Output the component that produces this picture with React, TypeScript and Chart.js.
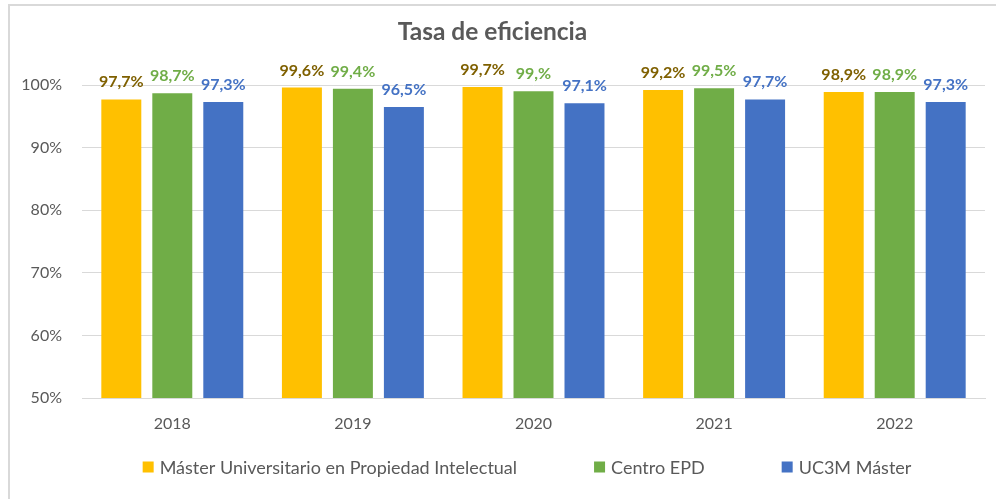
import React, { useEffect, useRef } from "react";
import { Chart, registerables } from "chart.js";

Chart.register(...registerables);

const categories = ["2018", "2019", "2020", "2021", "2022"];
const seriesNames = ["Máster Universitario en Propiedad Intelectual", "Centro EPD", "UC3M Máster"];
const masterValues = [97.7, 99.6, 99.7, 99.2, 98.9];
const centroValues = [98.7, 99.4, 99.0, 99.5, 98.9];
const uc3mValues = [97.3, 96.5, 97.1, 97.7, 97.3];
const masterLabels = ["97,7%", "99,6%", "99,7%", "99,2%", "98,9%"];
const centroLabels = ["98,7%", "99,4%", "99,%", "99,5%", "98,9%"];
const uc3mLabels = ["97,3%", "96,5%", "97,1%", "97,7%", "97,3%"];
const yTicks = [50, 60, 70, 80, 90, 100];

const FONT = "Lato";
const TEXT = "#595959";

const dataLabelPlugin = {
  id: "dataLabels",
  afterDatasetsDraw(chart: any) {
    const ctx = chart.ctx;
    ctx.save();
    ctx.font = `bold 16px ${FONT}`;
    ctx.textAlign = "center";
    ctx.textBaseline = "alphabetic";
    chart.data.datasets.forEach((ds: any, i: number) => {
      const meta = chart.getDatasetMeta(i);
      ctx.fillStyle = ds.labelColor;
      meta.data.forEach((bar: any, j: number) => {
        ctx.fillText(ds.labelTexts[j], bar.x, bar.y - 12);
      });
    });
    ctx.restore();
  },
};

const legendPlugin = {
  id: "customLegend",
  afterDraw(chart: any) {
    const ctx = chart.ctx;
    ctx.save();
    ctx.font = `18px ${FONT}`;
    ctx.textBaseline = "middle";
    ctx.textAlign = "left";
    const box = 11;
    const gapText = 6;
    const gapItem = 77;
    const items = chart.data.datasets.map((ds: any) => ({
      label: ds.label,
      color: ds.backgroundColor,
      w: box + gapText + ctx.measureText(ds.label).width,
    }));
    const total = items.reduce((s: number, it: any) => s + it.w, 0) + gapItem * (items.length - 1);
    let x = 527 - total / 2;
    const y = 467;
    items.forEach((it: any) => {
      ctx.fillStyle = it.color;
      ctx.fillRect(x, y - box / 2, box, box);
      ctx.fillStyle = TEXT;
      ctx.fillText(it.label, x + box + gapText, y + 1);
      x += it.w + gapItem;
    });
    ctx.restore();
  },
};

export default function App() {
  const ref = useRef<HTMLCanvasElement>(null);
  useEffect(() => {
    if (!ref.current) return;
    const chart = new Chart(ref.current, {
      type: "bar",
      data: {
        labels: categories,
        datasets: [
          { label: seriesNames[0], data: masterValues, backgroundColor: "#FFC000", labelColor: "#7F6000", labelTexts: masterLabels } as any,
          { label: seriesNames[1], data: centroValues, backgroundColor: "#70AD47", labelColor: "#70AD47", labelTexts: centroLabels } as any,
          { label: seriesNames[2], data: uc3mValues, backgroundColor: "#4472C4", labelColor: "#4472C4", labelTexts: uc3mLabels } as any,
        ],
      },
      options: {
        animation: false,
        responsive: false,
        maintainAspectRatio: false,
        layout: { padding: { left: 0, right: 11, top: 0, bottom: 51 } },
        datasets: { bar: { categoryPercentage: 0.847, barPercentage: 0.784 } },
        plugins: {
          legend: { display: false },
          tooltip: { enabled: false },
          title: {
            display: true,
            text: "Tasa de eficiencia",
            color: TEXT,
            font: { family: FONT, size: 24.5, weight: "bold" },
            padding: { top: 17.5, bottom: 38.1 },
          },
        },
        scales: {
          x: {
            grid: { display: false },
            border: { display: true, color: "#D9D9D9", width: 1 },
            ticks: { color: TEXT, font: { family: FONT, size: 16 }, padding: 8 },
            afterFit: (s: any) => { s.height = 50; },
          },
          y: {
            min: 50,
            max: 100,
            afterBuildTicks: (s: any) => { s.ticks = yTicks.map((v) => ({ value: v })); },
            grid: { color: "#D9D9D9", drawTicks: false },
            border: { display: false },
            ticks: {
              color: TEXT,
              font: { family: FONT, size: 16 },
              padding: 20,
              callback: (v: any) => `${v}%`,
            },
            afterFit: (s: any) => { s.width = 82; },
          },
        },
      },
      plugins: [dataLabelPlugin, legendPlugin],
    });
    return () => chart.destroy();
  }, []);
  return (
    <div style={{ position: "absolute", left: 0, top: 0, width: 996, height: 499, background: "#fff" }}>
      <div style={{ position: "absolute", left: 8, top: 4, right: 0, bottom: 0, borderLeft: "2px solid #D9D9D9", borderTop: "2px solid #D9D9D9" }} />
      <canvas ref={ref} width={996} height={499} style={{ position: "absolute", left: 0, top: 0 }} />
    </div>
  );
}
